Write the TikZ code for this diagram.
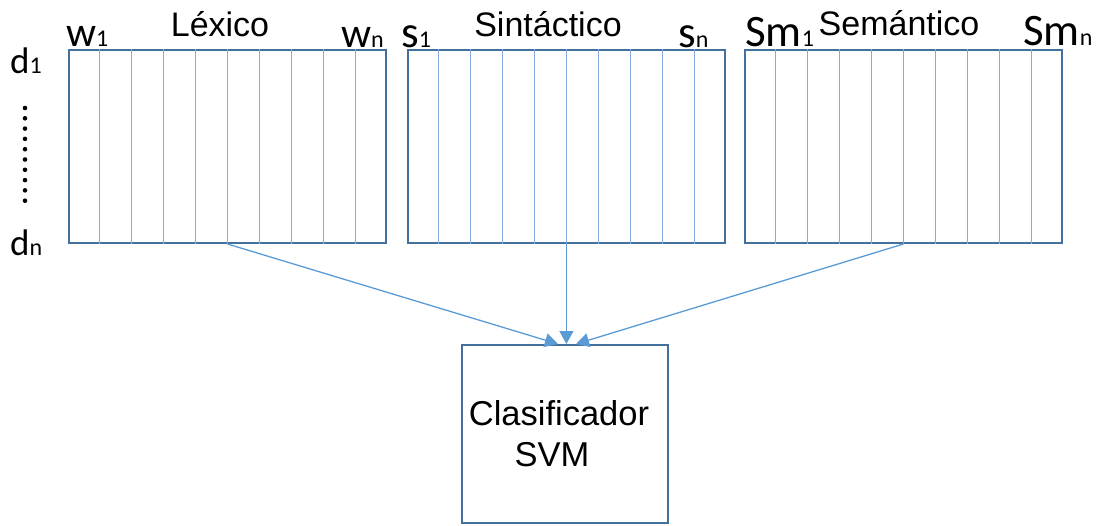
\documentclass[tikz,border=0pt]{standalone}
\usepackage{fontspec}
\setmainfont{Liberation Sans}
\newfontfamily\lblfont{Carlito}
\usetikzlibrary{calc,arrows.meta}

\definecolor{frameblue}{HTML}{41719C}
\definecolor{gridblue}{HTML}{82AEDF}
\definecolor{arrowblue}{HTML}{5B9BD5}

% indexed label: big letter(s) followed by a small index on the same baseline
\newcommand\idxlabel[3]{{\fontsize{#3}{#3}\selectfont #1}{\fontsize{24}{24}\selectfont #2}}

\tikzset{
  matrixbox/.style={draw=frameblue, line width=2pt, inner sep=0pt,
    minimum width=317pt, minimum height=193pt},
  gridline/.style={draw=gridblue, line width=1pt},
  title/.style={inner sep=0pt, anchor=base, font=\fontsize{34}{40}\selectfont},
  lbl/.style={inner sep=0pt, anchor=base west, font=\lblfont},
  conn/.style={draw=arrowblue, line width=1.3pt,
    -{Triangle[width=14pt,length=13pt]}},
  classbox/.style={draw=frameblue, line width=2pt, inner sep=0pt,
    minimum width=206pt, minimum height=178pt},
  classtext/.style={inner sep=0pt, align=center,
    font=\fontsize{34.5}{41}\selectfont},
}

\begin{document}
\begin{tikzpicture}[x=1pt, y=-1pt]
\useasboundingbox (0,0) rectangle (1099,525);

% feature matrices
\node[matrixbox] (lex) at (227.5,146.5) {};
\node[matrixbox] (sin) at (566.4,146.5) {};
\node[matrixbox] (sem) at (903.5,146.5) {};

\foreach \b in {lex,sin,sem}
  \foreach \i in {1,...,9}
    \draw[gridline] ($(\b.north west)!\i/10!(\b.north east)$)
                 -- ($(\b.south west)!\i/10!(\b.south east)$);

% titles
\node[title] (tlex) at (220,36) {Léxico};
\node[title] (tsin) at (548,36) {Sintáctico};
\node[title] (tsem) at (899,35) {Semántico};

% column labels
\node[lbl] (w1) at (66,46) {\idxlabel{w}{1}{42}};
\node[lbl] (wn) at (341,47) {\idxlabel{w}{n}{42}};
\node[lbl] (s1) at (401,47) {\idxlabel{s}{1}{45}};
\node[lbl] (sn) at (678,47) {\idxlabel{s}{n}{45}};
\node[lbl] (sm1) at (745,46) {\idxlabel{Sm}{1}{45}};
\node[lbl] (smn) at (1023,45) {\idxlabel{Sm}{n}{45}};

% row labels
\node[lbl] (d1) at (10,73) {\idxlabel{d}{1}{37}};
\node[lbl] (dn) at (10,255) {\idxlabel{d}{n}{37}};
\foreach \i in {0,...,9}
  \fill (25,108+\i*10.3) circle (2.3);

% classifier
\node[classbox] (svm) at (565,434) {};
\node[classtext] (svmtext) at ($(svm.center)+(-6,0)$) {Clasificador\\SVM\hspace*{14pt}};

% connectors
\draw[conn] (lex.south) -- ($(svm.north)+(-7,0)$);
\draw[conn] (sin.south) -- ($(svm.north)+(1.4,0)$);
\draw[conn] (sem.south) -- ($(svm.north)+(11,0)$);
\end{tikzpicture}
\end{document}
